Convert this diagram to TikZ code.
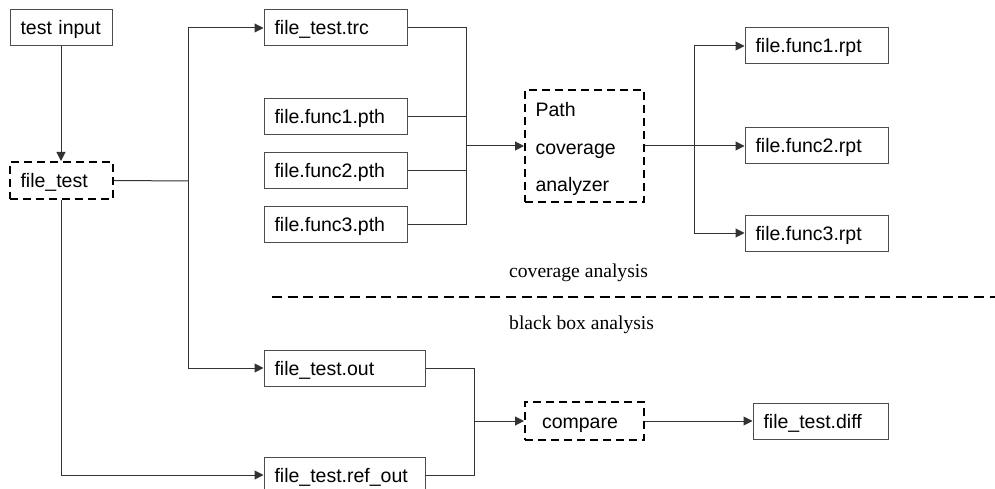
\documentclass[tikz,border=0pt]{standalone}
\usepackage{fontspec}
\setmainfont{Liberation Serif}
\newfontfamily\boxfont{Liberation Sans}
\usetikzlibrary{arrows.meta}

\tikzset{
  filebox/.style={draw=black!70, line width=1pt, rectangle,
    font=\boxfont\fontsize{19.5}{23}\selectfont,
    inner xsep=10.5pt, inner ysep=0pt, align=left,
    text height=14pt, text depth=0pt, minimum height=36pt},
  procbox/.style={filebox, draw=black, line width=2pt, dash pattern=on 8pt off 5pt},
  wire/.style={draw=black!80, line width=1pt},
  arr/.style={wire, -{Triangle[length=9pt,width=9pt]}},
  sepline/.style={draw=black, line width=2pt, dash pattern=on 10pt off 5.6pt},
  lbl/.style={font=\fontsize{19.6}{23}\selectfont, inner sep=0pt}
}

\begin{document}
\begin{tikzpicture}[x=1pt, y=-1pt]
\useasboundingbox (0,0) rectangle (995,489);
\clip (0,0) rectangle (995,489);

% sources and test driver
\node[filebox, minimum width=102pt, text width=81pt] (ti) at (61,28) {test input};
\node[procbox, minimum width=103pt, minimum height=37pt, text width=82pt] (ft) at (61.5,180.5) {file\_test};

% coverage branch
\node[filebox, minimum width=143pt, text width=122pt] (trc) at (335.5,28) {file\_test.trc};
\node[filebox, minimum width=143pt, text width=122pt] (fp1) at (335.5,117) {file.func1.pth};
\node[filebox, minimum width=143pt, text width=122pt] (fp2) at (335.5,171) {file.func2.pth};
\node[filebox, minimum width=143pt, text width=122pt] (fp3) at (335.5,224) {file.func3.pth};

\node[procbox, minimum width=119pt, minimum height=112pt, text width=98pt,
      font=\boxfont\fontsize{19.5}{37.5}\selectfont, text height=17pt, text depth=75pt]
      (pca) at (584.5,146) {Path\\coverage\\analyzer};

\node[filebox, minimum width=143pt, text width=122pt] (fr1) at (816.5,46) {file.func1.rpt};
\node[filebox, minimum width=143pt, text width=122pt] (fr2) at (816.5,146) {file.func2.rpt};
\node[filebox, minimum width=143pt, text width=122pt] (fr3) at (816.5,233) {file.func3.rpt};

% black box branch
\node[filebox, minimum width=161pt, text width=140pt] (fout) at (344.5,368) {file\_test.out};
\node[filebox, minimum width=161pt, text width=140pt] (fref) at (344.5,475) {file\_test.ref\_out};
\node[procbox, minimum width=119pt, minimum height=38pt, inner xsep=17pt, text width=85pt]
      (cmp) at (584.5,421) {compare};
\node[filebox, minimum width=135pt, text width=114pt] (fdiff) at (820.5,421) {file\_test.diff};

% section labels and divider
\node[lbl, anchor=base west] (cov) at (509,277) {coverage analysis};
\node[lbl, anchor=base west] (bba) at (509,329) {black box analysis};
\coordinate (sepL) at (272,297);
\coordinate (sepR) at (995,297);
\draw[sepline] (sepL) -- (sepR);

% junction points
\coordinate (b1) at (188,181);
\coordinate (b2) at (466,146);
\coordinate (b3) at (694,146);
\coordinate (b4) at (474,421);

% connectors
\draw[arr] (ti.south) -- (ti.south |- ft.north);
\draw[wire] (ft.east) -- (b1);
\draw[arr] (b1) |- (trc.west);
\draw[arr] (b1) |- (fout.west);
\draw[arr] (ft.south) |- (fref.west);

\draw[wire] (trc.east) -| (b2);
\draw[wire] (fp1.east) -- (fp1.east -| b2);
\draw[wire] (fp2.east) -- (fp2.east -| b2);
\draw[wire] (fp3.east) -| (b2);
\draw[arr] (b2) -- (pca.west);

\draw[wire] (pca.east) -- (b3);
\draw[arr] (b3) |- (fr1.west);
\draw[arr] (b3) -- (fr2.west);
\draw[arr] (b3) |- (fr3.west);

\draw[wire] (fout.east) -| (b4);
\draw[wire] (fref.east) -| (b4);
\draw[arr] (b4) -- (cmp.west);
\draw[arr] (cmp.east) -- (fdiff.west);
\end{tikzpicture}
\end{document}
